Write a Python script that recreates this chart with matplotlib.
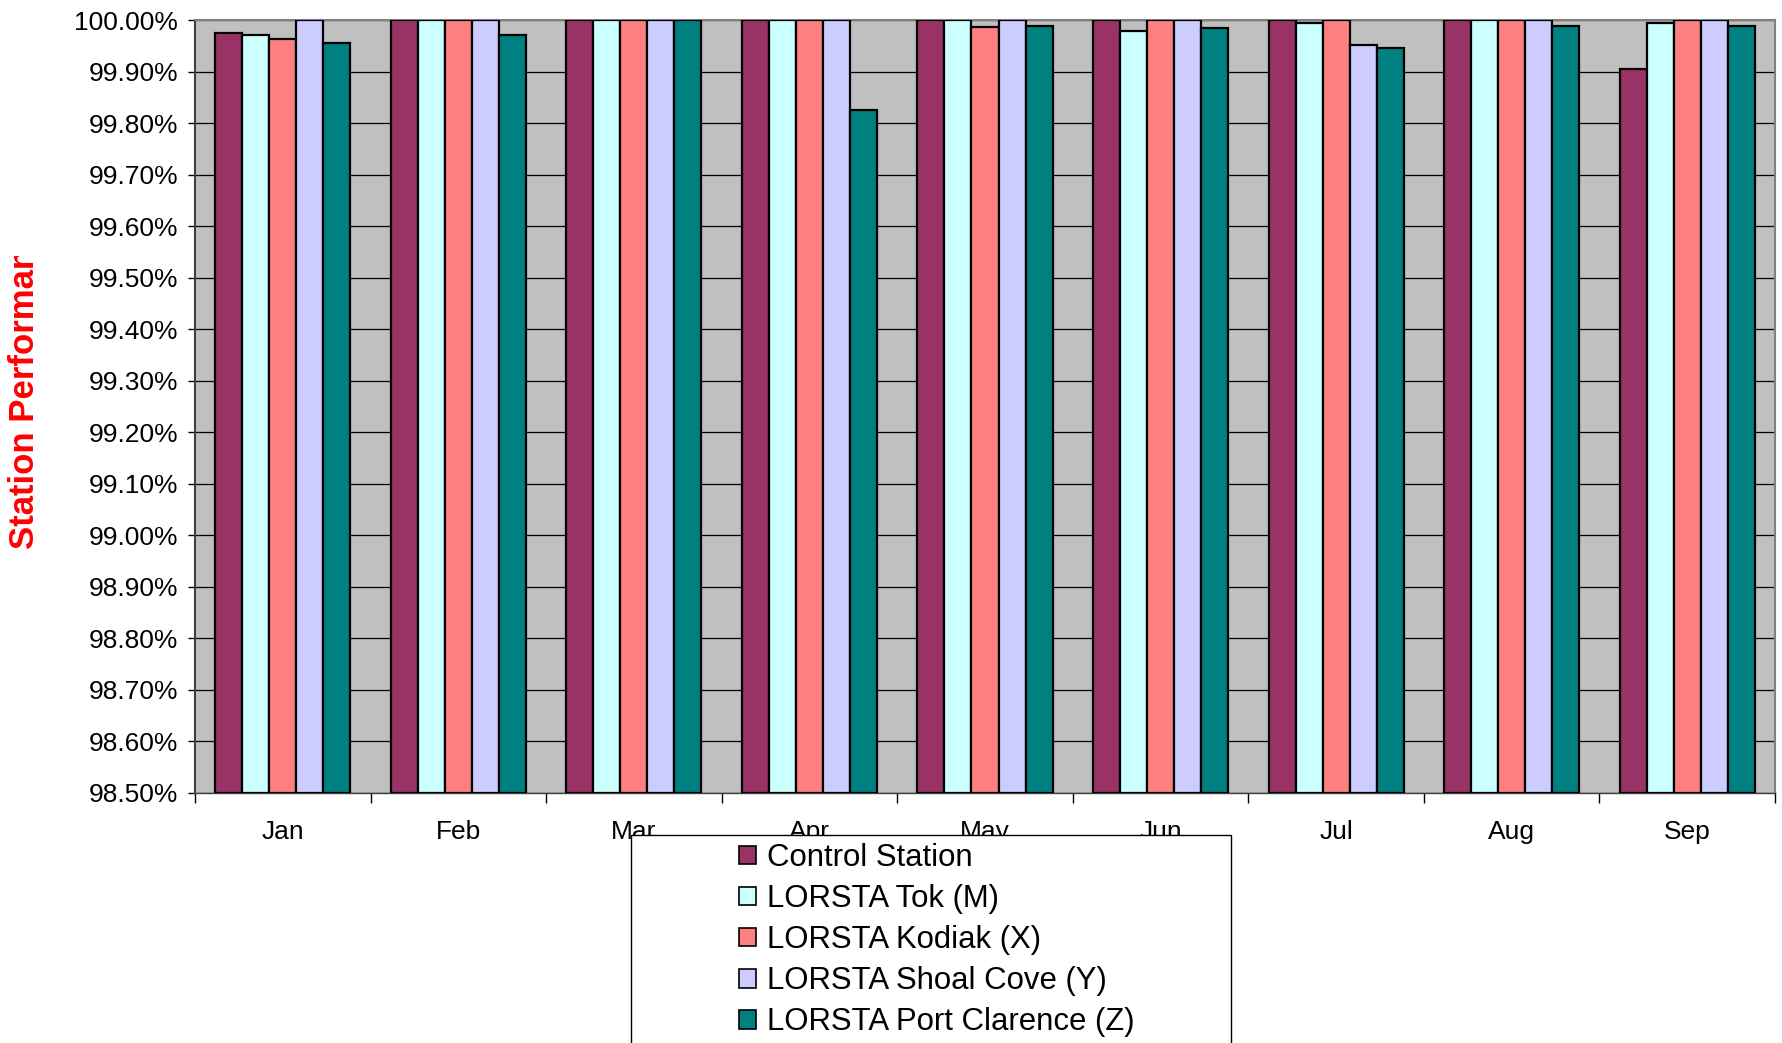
import matplotlib
matplotlib.use("Agg")
import matplotlib.pyplot as plt
import numpy as np
from matplotlib.patches import Rectangle, Patch
from matplotlib.ticker import FuncFormatter, FixedLocator

plt.rcParams['font.family'] = ['Liberation Sans', 'DejaVu Sans']

months = ["Jan", "Feb", "Mar", "Apr", "May", "Jun", "Jul", "Aug", "Sep"]
series_names = ["Control Station", "LORSTA Tok (M)", "LORSTA Kodiak (X)",
                "LORSTA Shoal Cove (Y)", "LORSTA Port Clarence (Z)"]
control_station = [99.975, 100.0, 100.0, 100.0, 100.0, 100.0, 100.0, 100.0, 99.905]
lorsta_tok = [99.970, 100.0, 100.0, 100.0, 100.0, 99.979, 99.994, 100.0, 99.994]
lorsta_kodiak = [99.964, 100.0, 100.0, 100.0, 99.987, 100.0, 100.0, 100.0, 100.0]
lorsta_shoal_cove = [100.0, 100.0, 100.0, 100.0, 100.0, 100.0, 99.951, 100.0, 100.0]
lorsta_port_clarence = [99.956, 99.970, 100.0, 99.825, 99.988, 99.984, 99.946, 99.988, 99.988]
colors = ["#993366", "#CCFFFF", "#FF8080", "#CCCCFF", "#008080"]

series = [control_station, lorsta_tok, lorsta_kodiak, lorsta_shoal_cove, lorsta_port_clarence]

W, H = 1782, 1043
fig = plt.figure(figsize=(W / 100, H / 100), dpi=100)
ax = fig.add_axes([195 / W, 1 - 793 / H, (1775 - 195) / W, (793 - 20) / H])
ax.set_facecolor("#C0C0C0")

ymin, ymax = 98.5, 100.0
x = np.arange(len(months))
bw = 0.154
for i, (vals, c, name) in enumerate(zip(series, colors, series_names)):
    offs = (i - 2) * bw
    heights = [v - ymin for v in vals]
    ax.bar(x + offs, heights, bw, bottom=ymin, color=c, edgecolor="black",
           linewidth=1.6, zorder=3, label=name)

ax.set_xlim(-0.5, len(months) - 0.5)
ax.set_ylim(ymin, ymax)

yt = np.round(np.arange(98.5, 100.0001, 0.1), 2)
ax.set_yticks(yt)
ax.yaxis.set_major_formatter(FuncFormatter(lambda v, p: f"{v:.2f}%"))
ax.grid(axis="y", color="black", linewidth=0.9, zorder=1)
ax.tick_params(axis="y", direction="out", length=5, width=1, pad=7, labelsize=19)

ax.xaxis.set_major_locator(FixedLocator(np.arange(-0.5, len(months), 1.0)))
ax.xaxis.set_major_formatter(FuncFormatter(lambda v, p: ""))
ax.xaxis.set_minor_locator(FixedLocator(x))
ax.set_xticklabels(months, minor=True)
ax.tick_params(axis="x", which="major", direction="out", length=7, width=1)
ax.tick_params(axis="x", which="minor", length=0, pad=19.5, labelsize=19)

for s in ["top", "right"]:
    ax.spines[s].set_color("#808080")
    ax.spines[s].set_linewidth(1.5)
ax.spines["left"].set_color("#404040")
ax.spines["left"].set_linewidth(1.5)
ax.spines["bottom"].set_color("#404040")
ax.spines["bottom"].set_linewidth(1.0)

# Y axis title (cut off at the top as in the original)
fig.text(25 / W, 1 - 549 / H, "Station Performance", rotation=90, color="red",
         fontsize=25, fontweight="bold", ha="center", va="bottom", zorder=2)
cover = Rectangle((0, 1 - 256 / H), 62 / W, 256 / H, transform=fig.transFigure,
                  facecolor="white", edgecolor="none", zorder=3)
fig.add_artist(cover)

# Legend box
rect = Rectangle((631 / W, -0.1), (1231 - 631) / W, 0.1 + (1 - 835 / H),
                 transform=fig.transFigure, facecolor="white", edgecolor="black",
                 linewidth=1.0, zorder=5)
fig.add_artist(rect)
handles = [Patch(facecolor=c, edgecolor="black", linewidth=1.2) for c in colors]
leg = fig.legend(handles, series_names, loc="upper left",
                 bbox_to_anchor=(739 / W, 1 - 843 / H), frameon=False,
                 fontsize=22.4, handlelength=0.55, handleheight=0.55,
                 handletextpad=0.36, labelspacing=0.355, borderpad=0, borderaxespad=0)
leg.set_zorder(6)

fig.savefig("out.png", dpi=100)
